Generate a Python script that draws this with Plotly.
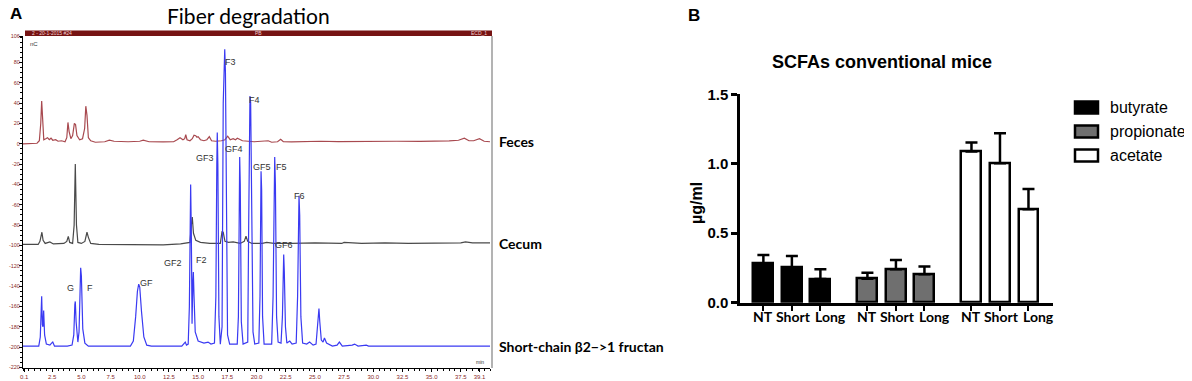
import plotly.graph_objects as go

# ---------------- Panel A data: chromatogram traces (time in min, signal in nC) ----------------
feces_t = [0.0, 1.2, 1.4, 1.52, 1.6, 1.68, 1.78, 1.95, 2.1, 2.25, 2.4, 2.55, 2.8, 3.0, 3.3, 3.6, 3.75, 3.85,
           3.95, 4.1, 4.25, 4.4, 4.5, 4.62, 4.85, 5.1, 5.28, 5.38, 5.48, 5.6, 5.8, 6.2, 7.0, 7.4, 7.8, 9.0,
           10.0, 10.3, 10.8, 12.0, 12.9, 13.2, 13.45, 13.7, 13.85, 13.94, 14.05, 14.3, 14.5, 14.65, 14.79,
           14.9, 15.0, 15.2, 15.5, 15.75, 15.96, 16.15, 16.5, 17.0, 17.3, 17.53, 17.75, 18.0, 18.2, 18.36,
           18.6, 18.8, 19.3, 19.8, 20.4, 21.0, 21.3, 21.8, 22.07, 22.3, 23.0, 24.0, 25.5, 27.0, 28.5, 30.0,
           32.0, 34.0, 35.5, 36.5, 37.3, 37.8, 38.2, 38.6, 39.1, 39.5, 40.0]
feces_nC = [0, 0.5, 3, 20, 42, 20, 4, 5, 6, 4, 5.5, 3.5, 4, 2.5, 3, 2, 6, 21,
            12, 5, 8, 20, 19, 8, 4, 5, 15, 37, 28, 6, 3, 1.5, 2, 3.5, 2.5, 2,
            2.5, 3.5, 2, 1.8, 2, 4, 6, 4, 5, 9, 4, 3, 5, 8.5, 8,
            6.5, 7, 4, 3, 4, 7, 3, 2.5, 3, 4, 7.5, 4, 5, 4, 5.5,
            4, 3, 2.5, 2, 2.5, 3, 1.5, 2, 4.5, 2, 1.8, 2.2, 2.5, 2.2, 2.5, 2.2,
            2.5, 2.3, 2.5, 2.8, 3.5, 5.5, 3, 3, 5, 2.5, 2]

cecum_t = [0.0, 1.3, 1.45, 1.55, 1.62, 1.72, 1.9, 2.3, 2.6, 3.5, 3.75, 3.88, 4.0, 4.25, 4.38, 4.48, 4.58,
           4.7, 5.0, 5.3, 5.48, 5.6, 5.8, 6.5, 8.0, 10.0, 12.0, 13.5, 14.0, 14.3, 14.42, 14.5, 14.6, 14.8,
           15.2, 16.0, 16.9, 17.05, 17.15, 17.3, 17.6, 18.0, 18.6, 18.95, 19.1, 19.25, 19.6, 20.5, 20.87,
           21.5, 23.0, 25.0, 27.3, 27.5, 29.0, 31.0, 33.0, 35.0, 37.5, 37.9, 38.5, 40.0]
cecum_nC = [-99, -99, -96, -88, -87, -95, -98, -96.5, -98.5, -98, -96, -91, -97, -98, -80, -20, -80,
            -97, -98, -96, -87, -92, -98, -99, -99, -99.5, -99.5, -98.5, -98, -97, -80, -72, -88, -95,
            -97, -98, -98, -86, -87, -96, -97, -96.5, -98, -96, -91, -96, -98, -98, -97,
            -98, -98, -97.5, -98, -97, -98, -97.5, -98, -97.5, -97.5, -96.5, -97.5, -97.5]

fructan_t = [0.0, 1.35, 1.48, 1.55, 1.6, 1.66, 1.71, 1.77, 1.85, 2.0, 2.3, 2.45, 2.55, 2.7, 3.8, 4.2, 4.35,
             4.44, 4.48, 4.55, 4.7, 4.8, 4.9, 4.94, 5.0, 5.12, 5.3, 5.6, 9.2, 9.45, 9.65, 9.8, 9.91, 10.0,
             10.15, 10.35, 10.6, 11.0, 13.6, 13.8, 13.9, 14.0, 14.15, 14.25, 14.32, 14.36, 14.42, 14.48,
             14.55, 14.59, 14.65, 14.75, 15.0, 15.5, 15.85, 16.1, 16.4, 16.52, 16.6, 16.64, 16.69, 16.78,
             16.9, 17.05, 17.15, 17.22, 17.28, 17.34, 17.42, 17.52, 17.7, 18.35, 18.45, 18.52, 18.56, 18.61,
             18.7, 18.85, 19.25, 19.33, 19.39, 19.44, 19.5, 19.58, 19.7, 19.85, 20.2, 20.3, 20.36, 20.39,
             20.44, 20.52, 20.65, 21.3, 21.42, 21.5, 21.56, 21.62, 21.72, 21.85, 22.1, 22.22, 22.3, 22.33,
             22.38, 22.48, 22.6, 22.85, 23.05, 23.4, 23.52, 23.6, 23.64, 23.7, 23.8, 23.95, 24.3, 24.55,
             24.85, 25.1, 25.22, 25.3, 25.35, 25.42, 25.55, 25.7, 25.82, 26.0, 26.5, 26.9, 27.1, 27.35,
             28.2, 28.4, 28.7, 29.4, 29.6, 40.0]
fructan_nC = [-199, -199, -190, -160, -150, -178, -180, -164, -188, -197, -198, -196, -195, -199, -199, -198, -188,
              -158, -155, -175, -195, -185, -130, -122, -130, -182, -196, -199, -199, -194, -170, -145, -138, -141,
              -165, -190, -198, -199, -199, -196, -195, -198, -197, -160, -60, -40, -90, -177,
              -135, -126, -150, -185, -194, -196, -195, -197, -196, -150, -20, 11, -20, -170,
              -197, -180, 40, 90, 93, 70, -100, -188, -197, -197, -170, -40, -13, -40,
              -175, -197, -195, -80, 40, 47, 40, -60, -185, -197, -196, -150, -40, -27,
              -45, -170, -197, -197, -150, -30, -13, -40, -170, -195, -196, -170, -112, -109,
              -125, -180, -196, -194, -197, -196, -150, -60, -51, -70, -170, -196, -197, -195,
              -198, -197, -180, -163, -162, -175, -193, -195, -191, -196, -199, -198, -195, -199,
              -198, -197, -199, -198, -199, -199]

peak_labels = ["G", "F", "GF", "GF2", "F2", "GF3", "F3", "GF4", "F4", "GF5", "F5", "F6", "GF6"]
label_t = [4.11, 5.74, 10.54, 12.82, 15.31, 15.59, 17.73, 18.07, 19.87, 20.45, 22.1, 23.64, 22.33]
label_nC = [-141.5, -141.5, -136.6, -117.3, -114.6, -13.5, 80, -5, 43, -22.4, -22.4, -51.3, -99.9]

sample_names = ["Feces", "Cecum", "Short-chain β2−>1 fructan"]
sample_baseline = [2, -98, -199]

time_ticks = [0.1, 2.5, 5.0, 7.5, 10.0, 12.5, 15.0, 17.5, 20.0, 22.5, 25.0, 27.5, 30.0, 32.5, 35.0, 37.5, 39.1]
nc_ticks = [-220, -200, -180, -160, -140, -120, -100, -80, -60, -40, -20, 0, 20, 40, 60, 80, 106]

# ---------------- Panel B data: SCFAs ----------------
acids = ["butyrate", "propionate", "acetate"]
treatments = ["NT", "Short", "Long"]
means = {
    "butyrate": [0.284, 0.252, 0.171],
    "propionate": [0.173, 0.240, 0.204],
    "acetate": [1.088, 1.004, 0.673],
}
sems = {
    "butyrate": [0.060, 0.084, 0.070],
    "propionate": [0.043, 0.068, 0.056],
    "acetate": [0.065, 0.216, 0.146],
}
bar_colors = {"butyrate": "#000000", "propionate": "#6f6f6f", "acetate": "#ffffff"}

# The page body adds an 8 px margin: all reference pixel positions are shifted by 8 px,
# and the figure fills the rest of the window.
OFF = 8
W, H = 1192 - OFF, 381 - OFF
def px(x): return (x - OFF) / W
def py(y): return 1 - (y - OFF) / H

ARIAL = "Liberation Sans, Arial, sans-serif"
LATO = "Lato, Open Sans, sans-serif"

fig = go.Figure()

# Panel A traces
for t, v, col in [(feces_t, feces_nC, "#a8494f"), (cecum_t, cecum_nC, "#4a4a4a"), (fructan_t, fructan_nC, "#3a3af2")]:
    fig.add_trace(go.Scatter(x=t, y=v, mode="lines", line=dict(color=col, width=1.2),
                             xaxis="x", yaxis="y", showlegend=False, hoverinfo="skip"))

# Panel B bars
group_gap = 3.65
label_shift = [0.0, 0.07, 0.36]   # GraphPad-style offset of the category labels
all_pos, all_txt, lab_pos = [], [], []
for g, acid in enumerate(acids):
    pos = [g * group_gap + i for i in range(len(treatments))]
    all_pos += pos
    all_txt += treatments
    lab_pos += [p + s for p, s in zip(pos, label_shift)]
    fig.add_trace(go.Bar(
        x=pos, y=means[acid], width=0.7, name=acid, xaxis="x2", yaxis="y2", showlegend=False,
        marker=dict(color=bar_colors[acid], line=dict(color="#000", width=2.5)),
        error_y=dict(type="data", array=sems[acid], arrayminus=[0] * 3, symmetric=False,
                     color="#000", thickness=2.5, width=6),
    ))

def A(x, y, text, size, family=ARIAL, color="#000", bold=False, xanchor="center", yanchor="middle",
      xref="paper", yref="paper", **kw):
    f = dict(family=family, size=size, color=color)
    if bold:
        f["weight"] = "bold"
    return dict(x=x, y=y, xref=xref, yref=yref, text=text, showarrow=False, xanchor=xanchor,
                yanchor=yanchor, font=f, **kw)

ann = []
# Peak labels
for lab, t, v in zip(peak_labels, label_t, label_nC):
    ann.append(A(t, v, lab, 9, color="#333", xref="x", yref="y"))
# Sample names
for name, b in zip(sample_names, sample_baseline):
    ann.append(A(px(497), b, name, 14, family=LATO, bold=True, xanchor="left", yref="y"))
# Category labels of panel B
for p, txt in zip(lab_pos, all_txt):
    ann.append(A(p, py(316.5), txt, 14, family=LATO, bold=True, xref="x2"))

ann += [
    A(px(8), py(13), "A", 17, bold=True, xanchor="left"),
    A(px(248), py(15), "Fiber degradation", 21, family=LATO),
    A(px(28), py(44), "nC", 6, color="#333", xanchor="left"),
    A(px(486), py(362), "min", 5, color="#333", xanchor="right"),
    A(px(30), py(33.3), "2 - 20-1-2015 #24", 5, color="#f0d0d0", xanchor="left"),
    A(px(258), py(33.3), "PB", 5, color="#f0d0d0"),
    A(px(489), py(33.3), "ECD_1", 5, color="#f0d0d0", xanchor="right"),
    # Panel B
    A(px(686), py(15), "B", 17, bold=True, xanchor="left"),
    A(px(882), py(62), "SCFAs conventional mice", 18, bold=True),
    A(px(696), py(203), "µg/ml", 16, bold=True, textangle=-90),
]

shapes = [
    # top title bar of chromatogram
    dict(type="rect", xref="paper", yref="paper", x0=px(25), x1=px(492), y0=py(36), y1=py(30.5),
         fillcolor="#761313", line=dict(width=0), layer="above"),
    # right frame
    dict(type="line", xref="paper", yref="paper", x0=px(492), x1=px(492), y0=py(368), y1=py(36),
         line=dict(color="#9a9a9a", width=1.5)),
]

# Manual legend for panel B
leg_y = [107.5, 131.5, 155.5]
for acid, yc in zip(acids, leg_y):
    shapes.append(dict(type="rect", xref="paper", yref="paper", x0=px(1075), x1=px(1098),
                       y0=py(yc + 6), y1=py(yc - 6), fillcolor=bar_colors[acid],
                       line=dict(color="#000", width=2.5)))
    ann.append(A(px(1108), py(yc), acid, 16, xanchor="left"))

fig.update_layout(
    width=W, height=H, margin=dict(l=0, r=0, t=0, b=0, pad=0, autoexpand=False),
    paper_bgcolor="white", plot_bgcolor="white",
    annotations=ann, shapes=shapes, bargap=0,
    xaxis=dict(domain=[px(23), px(490)], range=[0, 40], anchor="y", automargin=False,
               tickvals=time_ticks, ticktext=[f"{v:.1f}" for v in time_ticks], tickangle=0,
               tickfont=dict(family=ARIAL, size=6, color="#8b2a2a"),
               showline=True, linecolor="#000", linewidth=1, ticks="outside", ticklen=3, tickcolor="#000",
               minor=dict(dtick=0.5, ticks="outside", ticklen=2, tickcolor="#000"),
               showgrid=False, zeroline=False, fixedrange=True),
    yaxis=dict(domain=[py(368), py(36)], range=[-220.5, 106], anchor="x", automargin=False,
               tickvals=nc_ticks, ticktext=[str(v) for v in nc_ticks], ticklabelstandoff=-2,
               tickfont=dict(family=ARIAL, size=5.5, color="#8b2a2a"),
               showline=True, linecolor="#000", linewidth=1, ticks="outside", ticklen=3, tickcolor="#000",
               minor=dict(dtick=5, ticks="outside", ticklen=2, tickcolor="#000"),
               showgrid=False, zeroline=False, fixedrange=True),
    xaxis2=dict(domain=[px(740), px(1053)], range=[-0.82, 10.16], anchor="y2", automargin=False,
                tickvals=all_pos, showticklabels=False,
                showline=True, linecolor="#000", linewidth=2.5, ticks="outside", ticklen=6, tickwidth=2,
                tickcolor="#000", showgrid=False, zeroline=False),
    yaxis2=dict(domain=[py(302.7), py(94.3)], range=[0, 1.5], anchor="x2", automargin=False,
                tickvals=[0, 0.5, 1.0, 1.5], ticktext=["0.0", "0.5", "1.0", "1.5"],
                tickfont=dict(family=ARIAL, size=15, color="#000", weight="bold"),
                showline=True, linecolor="#000", linewidth=2.5, ticks="outside", ticklen=6, tickwidth=2.5,
                tickcolor="#000", showgrid=False, zeroline=False),
)

fig.write_html("out.html")
